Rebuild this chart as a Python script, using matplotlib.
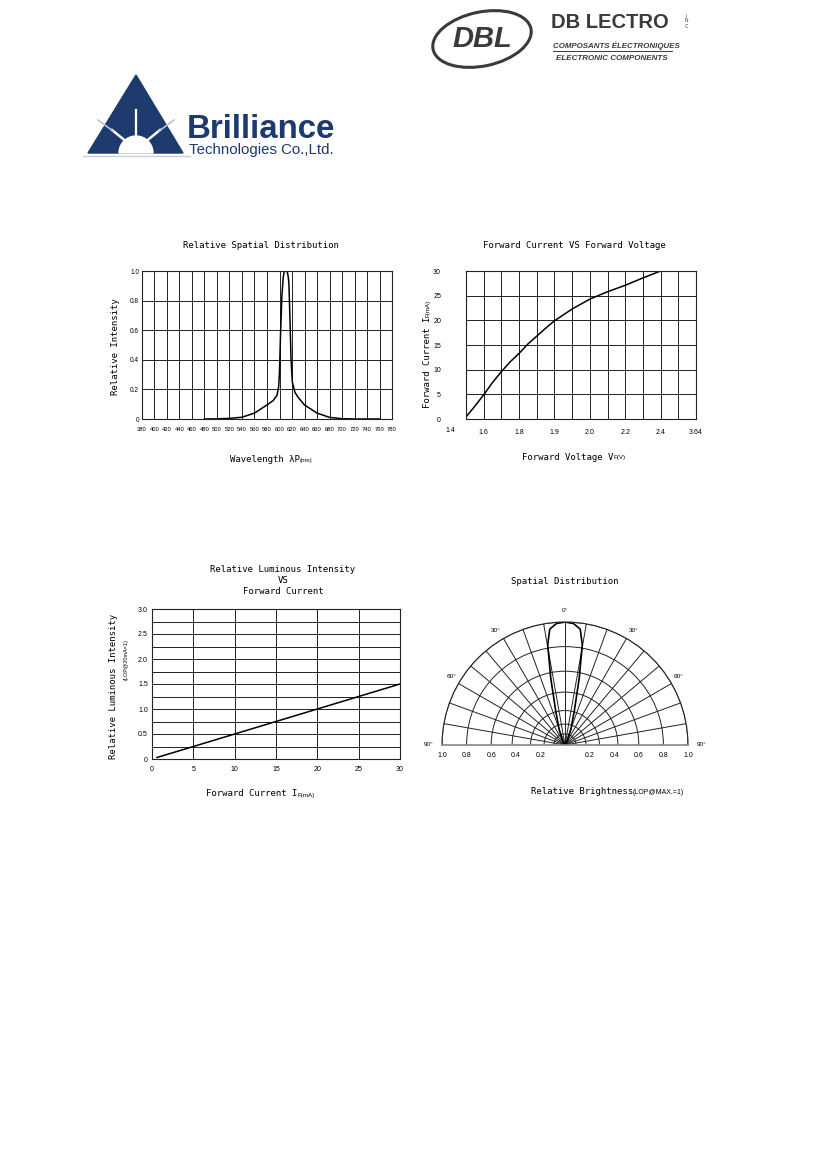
import numpy as np
import matplotlib
matplotlib.use('Agg')
import matplotlib.pyplot as plt
import matplotlib.transforms as mtransforms
from matplotlib.patches import Polygon, Ellipse, Wedge

# --- data ---
# Relative spatial distribution (wavelength nm / relative intensity)
wavelength = [480, 500, 520, 540, 560, 580, 590, 596, 598.7, 600, 601.7, 603.8, 606, 607.5,
              610, 612.5, 614, 615, 616.6, 618.4, 620.5, 624.7, 630, 640, 660, 680, 700, 720, 760]
rel_intensity = [0, 0.001, 0.004, 0.012, 0.04, 0.095, 0.125, 0.16, 0.22, 0.32, 0.58, 0.83, 0.96, 0.995,
                 1.0, 0.995, 0.96, 0.92, 0.70, 0.41, 0.25, 0.18, 0.145, 0.095, 0.04, 0.011, 0.002, 0, 0]

# Forward current vs forward voltage (x = grid column, labels are the sheet's own)
vf_pos = [0, 0.5, 1, 1.5, 2, 2.5, 3, 3.5, 4, 4.5, 5, 6, 6.5, 7, 8, 9, 10, 11]
if_ma = [0.4, 2.6, 4.9, 7.4, 9.6, 11.6, 13.3, 15.2, 16.8, 18.4, 19.9, 22.3, 23.3, 24.3, 25.8, 27.1, 28.6, 30]
vf_labels = ['', '1.6', '', '1.8', '', '1.9', '', '2.0', '', '2.2', '', '2.4', '', '3.64']

# Relative luminous intensity vs forward current
if_lum = [0.6, 5, 10, 15, 20, 25, 30]
rel_lum = [0.03, 0.25, 0.5, 0.75, 1.0, 1.25, 1.5]

# Spatial distribution (angle deg / relative brightness)
angle = [0, 4, 7.5, 9.8, 12, 15.2, 21, 27, 40, 90]
brightness = [1.0, 0.99, 0.95, 0.826, 0.558, 0.29, 0.13, 0.045, 0.01, 0]
ring_r = [0.09, 0.17, 0.28, 0.43, 0.6, 0.8, 1.0]

W, H = 826, 1169
fig = plt.figure(figsize=(W / 100, H / 100), dpi=100)
fig.patch.set_facecolor('white')

MONO = ['DejaVu Sans Mono']
SANS = ['Liberation Sans', 'DejaVu Sans']
TSIZE = 6.5
KSIZE = 5.0


def box(l, t, r, b):
    return [l / W, 1 - b / H, (r - l) / W, (b - t) / H]


def ftext(x, y, s, **kw):
    return fig.text(x / W, 1 - y / H, s, **kw)


def style(ax, xpad, ypad, ksize=KSIZE):
    ax.grid(True, which='both', color='#222222', lw=0.7)
    ax.set_axisbelow(True)
    for sp in ax.spines.values():
        sp.set_color('#222222')
        sp.set_linewidth(0.8)
    ax.tick_params(which='both', length=0, labelsize=ksize)
    ax.tick_params(axis='x', pad=xpad)
    ax.tick_params(axis='y', pad=ypad)
    for lab in ax.get_xticklabels() + ax.get_yticklabels():
        lab.set_family(SANS)


# ---------- chart 1 ----------
ax1 = fig.add_axes(box(142, 271, 392, 419))
ax1.plot(wavelength, rel_intensity, color='black', lw=1.1)
ax1.set_xlim(380, 780)
ax1.set_ylim(0, 1.0)
ax1.set_xticks(np.arange(380, 781, 20))
ax1.set_yticks([0, 0.2, 0.4, 0.6, 0.8, 1.0], ['0', '0.2', '0.4', '0.6', '0.8', '1.0'])
style(ax1, 6, 2, 4.2)
ax1.tick_params(axis='y', labelsize=4.7)
ftext(261, 245, 'Relative Spatial Distribution', family=MONO, size=TSIZE, ha='center', va='center')
ftext(300, 459, 'Wavelength λP', family=MONO, size=TSIZE, ha='right', va='center')
ftext(300, 460, '(nm)', family=SANS, size=4.5, ha='left', va='center')
ftext(116, 347, 'Relative Intensity', family=MONO, size=TSIZE, rotation=90, ha='center', va='center')

# ---------- chart 2 ----------
ax2 = fig.add_axes(box(466, 271, 696, 419))
ax2.plot(vf_pos, if_ma, color='black', lw=1.1)
ax2.set_xlim(0, 13)
ax2.set_ylim(0, 30)
ax2.set_xticks(range(14), vf_labels)
ax2.set_yticks(range(0, 31, 5))
style(ax2, 7, 18)
ax2.text(-0.9, -0.075, '1.4', transform=mtransforms.blended_transform_factory(ax2.transData, ax2.transAxes),
         size=KSIZE, family=SANS, ha='center', va='center', clip_on=False)
ftext(574, 246, 'Forward Current VS Forward Voltage', family=MONO, size=TSIZE, ha='center', va='center')
ftext(613, 457, 'Forward Voltage V', family=MONO, size=TSIZE, ha='right', va='center')
ftext(613, 458, 'F(V)', family=SANS, size=4.5, ha='left', va='center')
ftext(428, 317, 'Forward Current I', family=MONO, size=TSIZE, rotation=90, ha='center', va='top')
ftext(428, 317, 'F(mA)', family=SANS, size=4.5, rotation=90, ha='center', va='bottom')

# ---------- chart 3 ----------
ax3 = fig.add_axes(box(152, 609, 400, 759))
ax3.plot(if_lum, rel_lum, color='black', lw=1.1)
ax3.set_xlim(0, 30)
ax3.set_ylim(0, 3.0)
ax3.set_xticks(range(0, 31, 5))
ax3.set_yticks([0, 0.5, 1.0, 1.5, 2.0, 2.5, 3.0], ['0', '0.5', '1.0', '1.5', '2.0', '2.5', '3.0'])
ax3.set_yticks(np.arange(0.25, 3.0, 0.5), minor=True)
style(ax3, 5, 3)
for i, s in enumerate(['Relative Luminous Intensity', 'VS', 'Forward Current']):
    ftext(283, 569 + 11.5 * i, s, family=MONO, size=TSIZE, ha='center', va='center')
ftext(297, 794, 'Forward Current I', family=MONO, size=TSIZE, ha='right', va='center')
ftext(297, 795, 'F(mA)', family=SANS, size=4.5, ha='left', va='center')
ftext(114, 686, 'Relative Luminous Intensity', family=MONO, size=TSIZE, rotation=90, ha='center', va='center')
ftext(126, 660, '(LOP@20mA=1)', family=SANS, size=4.0, rotation=90, ha='center', va='center')

# ---------- chart 4 (polar) ----------
# square box: the half disc is centred vertically inside it
ax4 = fig.add_axes(box(442, 560.5, 688, 806.5), projection='polar')
ax4.set_theta_zero_location('N')
ax4.set_theta_direction(-1)
ax4.set_thetamin(-90)
ax4.set_thetamax(90)
ax4.set_rlim(0, 1)
ax4.set_thetagrids(range(-90, 91, 10), labels=[''] * 19)
ax4.set_rgrids(ring_r, labels=[''] * len(ring_r))
ax4.grid(True, color='#222222', lw=0.7)
ax4.spines['polar'].set_color('#222222')
ax4.spines['polar'].set_linewidth(0.8)
for k in ('start', 'end'):
    ax4.spines[k].set_color('#888888')
    ax4.spines[k].set_linewidth(1.2)
th = np.deg2rad(np.concatenate([-np.array(angle[::-1]), np.array(angle[1:])]))
rr = np.concatenate([np.array(brightness[::-1]), np.array(brightness[1:])])
ax4.plot(th, rr, color='black', lw=1.2)
for a, r, s in [(0, 1.09, '0°'), (-31, 1.09, '30°'), (31, 1.09, '30°'), (-59, 1.08, '60°'),
                (59, 1.08, '60°'), (-90, 1.11, '90°'), (90, 1.11, '90°')]:
    ax4.text(np.deg2rad(a), r, s, size=4.6, family=SANS, ha='center', va='center', clip_on=False)
below = ax4.transData + mtransforms.ScaledTranslation(0, -7.5 / 72, fig.dpi_scale_trans)
for v in [0.2, 0.4, 0.6, 0.8, 1.0]:
    for side in (-90, 90):
        ax4.text(np.deg2rad(side), v, f'{v:.1f}', transform=below, size=KSIZE, family=SANS,
                 ha='center', va='center', clip_on=False)
ftext(565, 582, 'Spatial Distribution', family=MONO, size=TSIZE, ha='center', va='center')
ftext(633, 792, 'Relative Brightness', family=MONO, size=TSIZE, ha='right', va='center')
ftext(633, 793, '(LOP@MAX.=1)', family=SANS, size=5.0, ha='left', va='center')

# ---------- logos ----------
lg = fig.add_axes([0, 0, 1, 1], zorder=-1)
lg.set_xlim(0, W)
lg.set_ylim(H, 0)
lg.axis('off')
navy = '#1d3a6e'
lg.add_patch(Polygon([(136, 75), (88, 153), (183, 153)], closed=True, color=navy))
lg.add_patch(Wedge((136, 153), 17, 180, 360, color='white'))
lg.plot([136, 136], [110, 146], color='white', lw=1.6)
lg.plot([112, 133], [130, 147], color='white', lw=1.8)
lg.plot([160, 139], [130, 147], color='white', lw=1.8)
lg.plot([98, 113], [120, 131], color='#b8c2d4', lw=1.2)
lg.plot([174, 159], [120, 131], color='#b8c2d4', lw=1.2)
lg.plot([83, 190], [155.5, 155.5], color='#c8ccd4', lw=1.0)
lg.text(187, 129, 'Brilliance', color=navy, size=23.8, weight='bold', family=SANS,
        ha='left', va='center')
lg.text(189, 150, 'Technologies Co.,Ltd.', color=navy, size=10.8, family=SANS,
        ha='left', va='center')

grey = '#3a3a3a'
lg.add_patch(Ellipse((482, 39), 100, 54, angle=-12, fill=False, ec=grey, lw=2.2))
lg.text(482, 39, 'DBL', color=grey, size=21, weight='bold', style='italic', family=SANS,
        ha='center', va='center')
lg.text(551, 23, 'DB LECTRO', color=grey, size=14.5, weight='bold', family=SANS, ha='left', va='center')
lg.text(686, 21, 'I\nN\nC', color=grey, size=3.4, linespacing=1.0, family=SANS, ha='center', va='center')
lg.text(553, 46, 'COMPOSANTS ÉLECTRONIQUES', color=grey, size=5.7, weight='bold', style='italic',
        family=SANS, ha='left', va='center')
lg.plot([553, 672], [51, 51], color=grey, lw=0.7)
lg.text(556, 59, 'ELECTRONIC COMPONENTS', color=grey, size=5.8, weight='bold', style='italic',
        family=SANS, ha='left', va='center')

fig.savefig('out.png', dpi=100, facecolor='white')
